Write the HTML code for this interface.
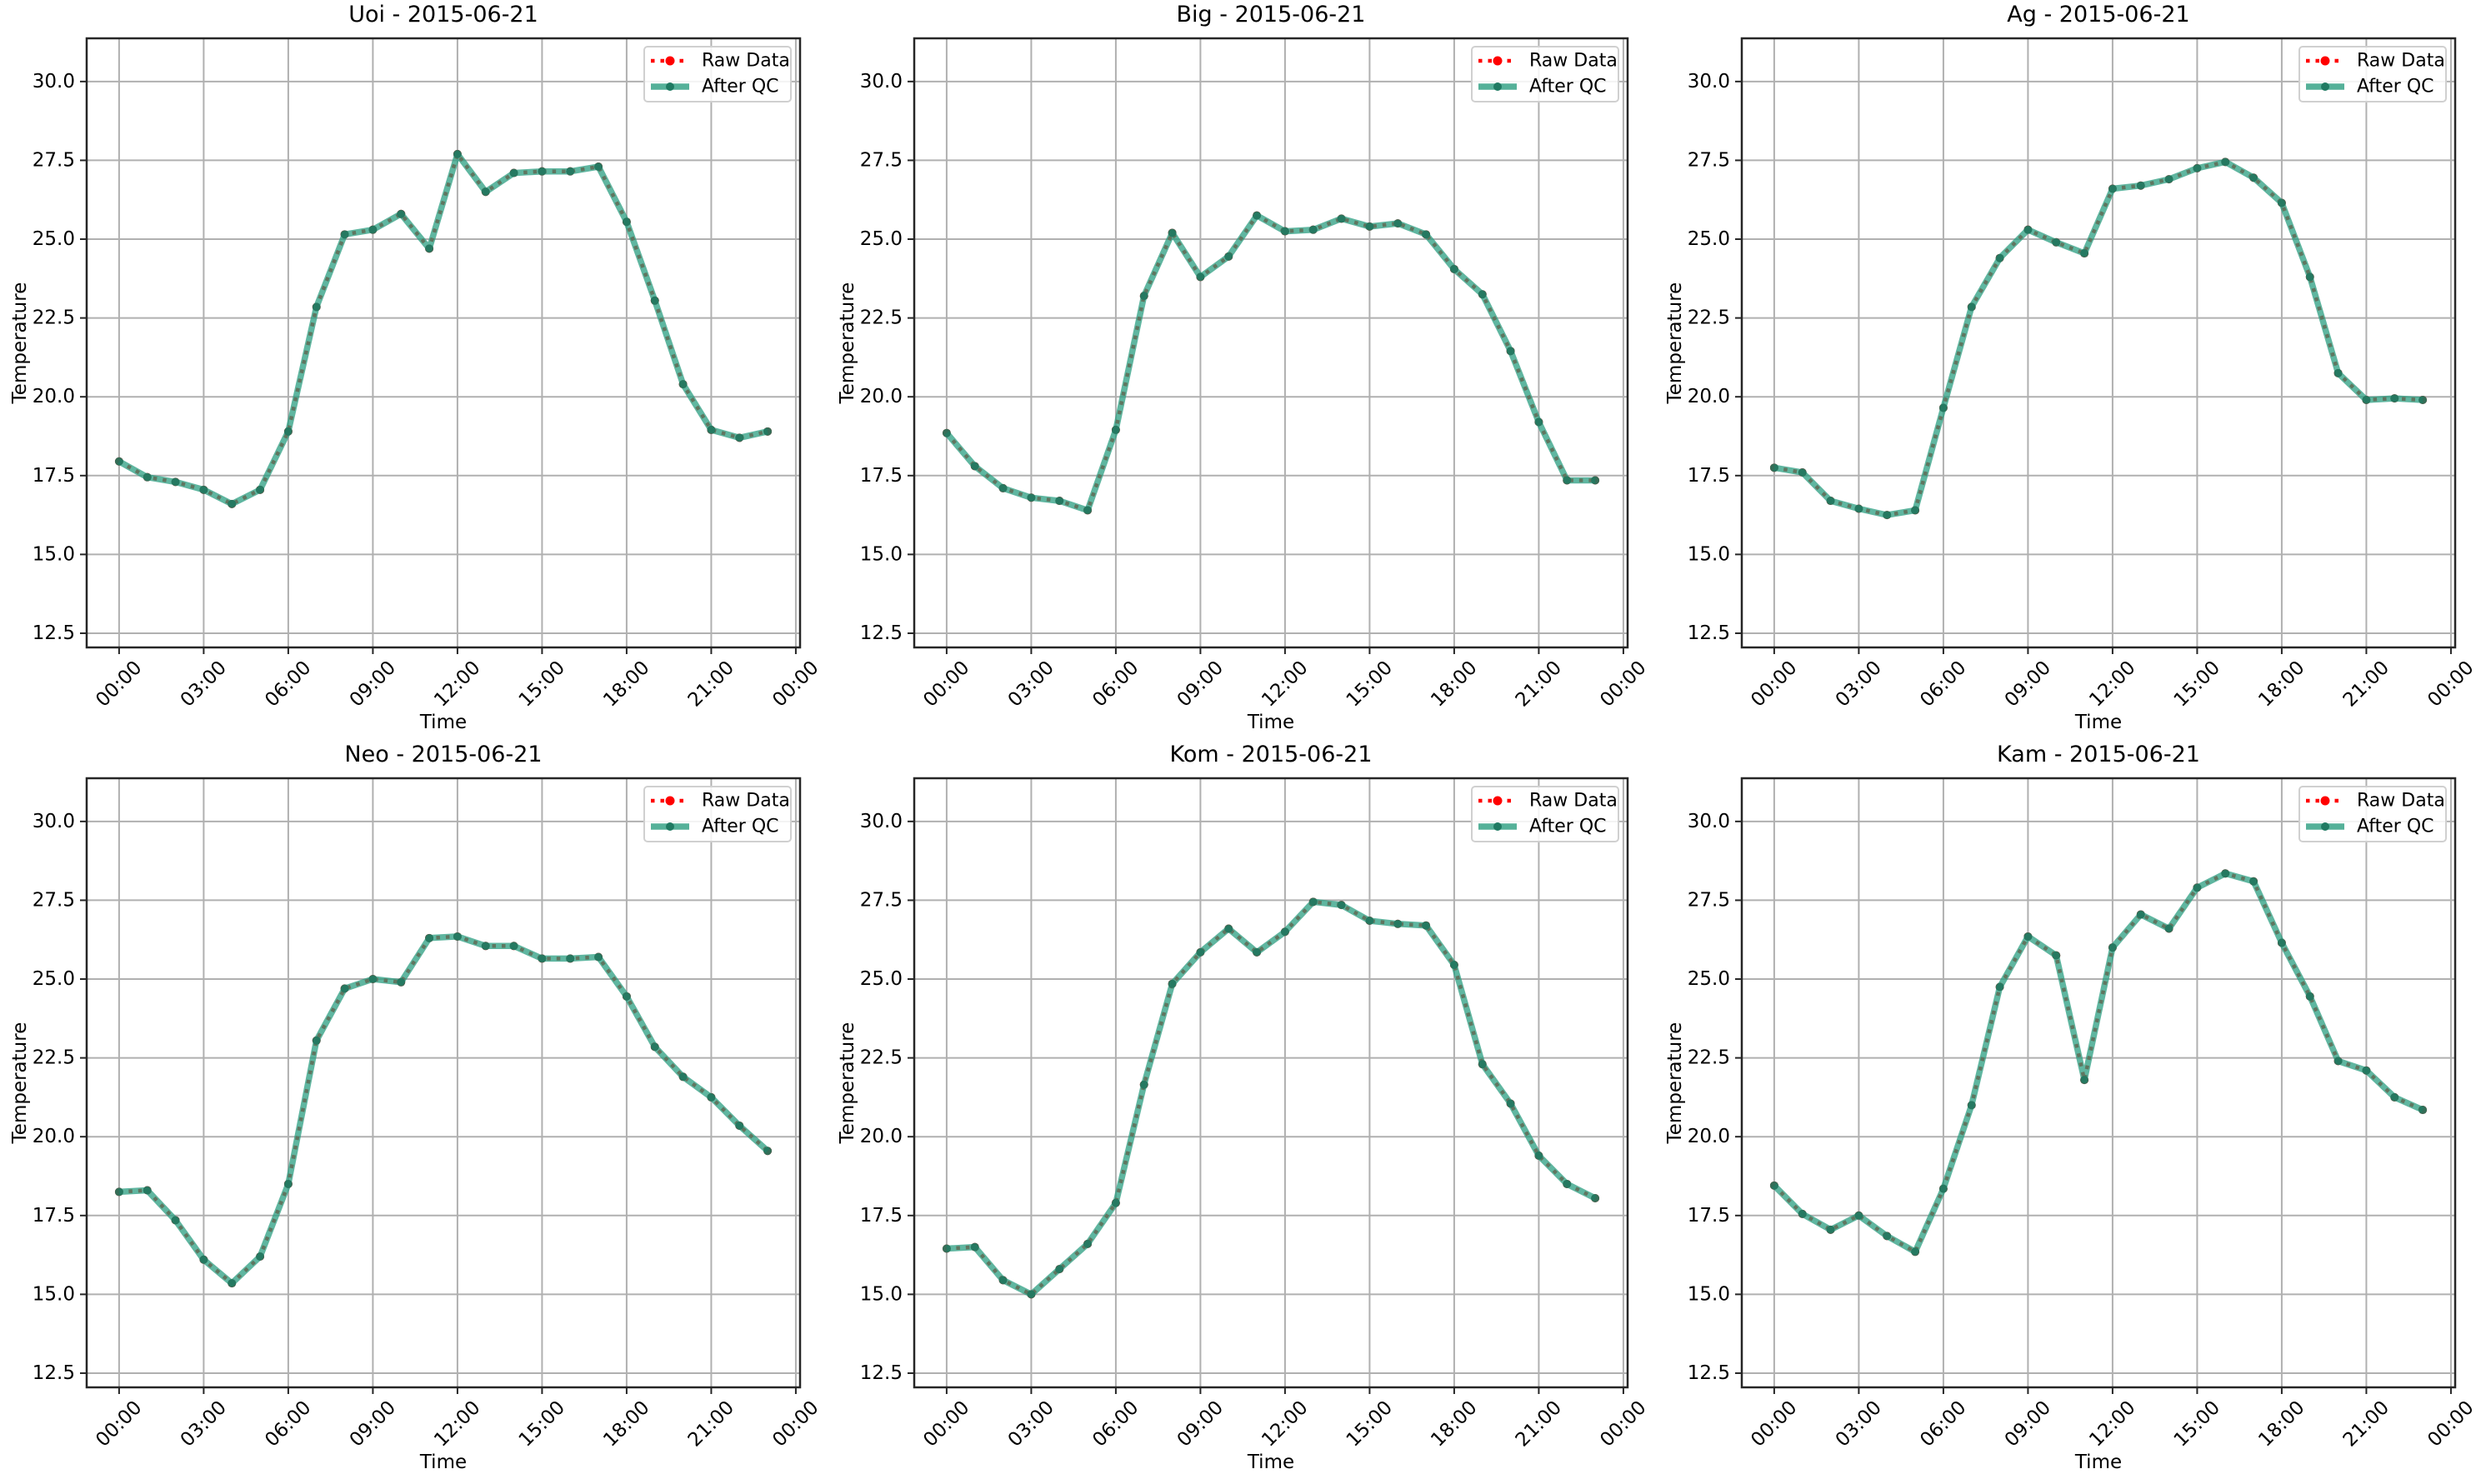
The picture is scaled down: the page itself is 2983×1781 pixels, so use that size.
<!DOCTYPE html>
<html><head><meta charset="utf-8"><style>
html,body{margin:0;padding:0;background:#fff}
svg{display:block;font-family:"DejaVu Sans","Liberation Sans",sans-serif}
</style></head><body>
<svg id="fig" width="2983" height="1781" viewBox="0 0 2983 1781" xmlns="http://www.w3.org/2000/svg"></svg>
<script>
const stations = ["Uoi","Big","Ag","Neo","Kom","Kam"];
const dateLabel = "2015-06-21";
const hours = [0,1,2,3,4,5,6,7,8,9,10,11,12,13,14,15,16,17,18,19,20,21,22,23];
const uoiValues = [17.95,17.45,17.3,17.05,16.6,17.05,18.9,22.85,25.15,25.3,25.8,24.7,27.7,26.5,27.1,27.15,27.15,27.3,25.55,23.05,20.4,18.95,18.7,18.9];
const bigValues = [18.85,17.8,17.1,16.8,16.7,16.4,18.95,23.2,25.2,23.8,24.45,25.75,25.25,25.3,25.65,25.4,25.5,25.15,24.05,23.25,21.45,19.2,17.35,17.35];
const agValues = [17.75,17.6,16.7,16.45,16.25,16.4,19.65,22.85,24.4,25.3,24.9,24.55,26.6,26.7,26.9,27.25,27.45,26.95,26.15,23.8,20.75,19.9,19.95,19.9];
const neoValues = [18.25,18.3,17.35,16.1,15.35,16.2,18.5,23.05,24.7,25.0,24.9,26.3,26.35,26.05,26.05,25.65,25.65,25.7,24.45,22.85,21.9,21.25,20.35,19.55];
const komValues = [16.45,16.5,15.45,15.0,15.8,16.6,17.9,21.65,24.85,25.85,26.6,25.85,26.5,27.45,27.35,26.85,26.75,26.7,25.45,22.3,21.05,19.4,18.5,18.05];
const kamValues = [18.45,17.55,17.05,17.5,16.85,16.35,18.35,21.0,24.75,26.35,25.75,21.8,26.0,27.05,26.6,27.9,28.35,28.1,26.15,24.45,22.4,22.1,21.25,20.85];
const rawSeries = [uoiValues,bigValues,agValues,neoValues,komValues,kamValues];
const qcSeries = [uoiValues,bigValues,agValues,neoValues,komValues,kamValues];
const yTicks = [12.5,15.0,17.5,20.0,22.5,25.0,27.5,30.0];
const xTickHours = [0,3,6,9,12,15,18,21,24];
const xTickLabels = ["00:00","03:00","06:00","09:00","12:00","15:00","18:00","21:00","00:00"];

const NS="http://www.w3.org/2000/svg";
const svg=document.getElementById('fig');
function mk(tag,attrs,parent){const e=document.createElementNS(NS,tag);for(const k in attrs)e.setAttribute(k,attrs[k]);(parent||svg).appendChild(e);return e;}
const W=856,H=731,L0=104,T0=46,DX=993,DY=888;
const xMin=-1.15,xMax=24.15,yMin=12.05,yMax=31.37;

for(let p=0;p<6;p++){
  const L=L0+(p%3)*DX, T=T0+Math.floor(p/3)*DY;
  const xs=h=>L+(h-xMin)/(xMax-xMin)*W;
  const ys=v=>T+H-(v-yMin)/(yMax-yMin)*H;
  const g=mk('g',{});
  
  
  // grid
  xTickHours.forEach((h,i)=>{
    const x=xs(h);
    const gl=mk('line',{x1:x,x2:x,y1:T,y2:T+H,stroke:'#b0b0b0','stroke-width':2},g);
    
    
    mk('line',{x1:x,x2:x,y1:T+H,y2:T+H+8,stroke:'#262626','stroke-width':2},g);
    const cx=x, cy=T+H+44;
    const t=mk('text',{x:cx,y:cy,'font-size':23,'text-anchor':'middle','dominant-baseline':'central',transform:`rotate(-45 ${cx} ${cy})`,fill:'#000'},g);
    t.textContent=xTickLabels[i];
    
    
  });
  yTicks.forEach(v=>{
    const y=ys(v);
    const gl=mk('line',{x1:L,x2:L+W,y1:y,y2:y,stroke:'#b0b0b0','stroke-width':2},g);
    
    
    mk('line',{x1:L-8,x2:L,y1:y,y2:y,stroke:'#262626','stroke-width':2},g);
    const t=mk('text',{x:L-14,y:y,'font-size':23,'text-anchor':'end','dominant-baseline':'central',fill:'#000'},g);
    t.textContent=v.toFixed(1);
    
    
  });
  // raw series
  const rp=rawSeries[p].map((v,i)=>xs(hours[i]).toFixed(1)+','+ys(v).toFixed(1)).join(' ');
  const raw=mk('polyline',{points:rp,fill:'none',stroke:'#ff0000','stroke-width':4.5,'stroke-dasharray':'4.5 7'},g);
  
  
  rawSeries[p].forEach((v,i)=>{
    const c=mk('circle',{cx:xs(hours[i]),cy:ys(v),r:5,fill:'#ff0000'},g);
    
    
  });
  const qp=qcSeries[p].map((v,i)=>xs(hours[i]).toFixed(1)+','+ys(v).toFixed(1)).join(' ');
  const qc=mk('polyline',{points:qp,fill:'none',stroke:'#2a9d80','stroke-opacity':0.75,'stroke-width':7.5,'stroke-linejoin':'round'},g);
  
  
  qcSeries[p].forEach((v,i)=>{
    const c=mk('circle',{cx:xs(hours[i]),cy:ys(v),r:5,fill:'#1f7a62','fill-opacity':0.9},g);
    
    
  });
  // spines
  const sp=mk('rect',{x:L,y:T,width:W,height:H,fill:'none',stroke:'#262626','stroke-width':2.5},g);
  
  
  // title & labels
  const tt=mk('text',{x:L+W/2,y:T-20,'font-size':27,'text-anchor':'middle',fill:'#000'},g);
  tt.textContent=stations[p]+' - '+dateLabel;
  
  
  const xl=mk('text',{x:L+W/2,y:T+H+97,'font-size':23,'text-anchor':'middle',fill:'#000'},g);
  xl.textContent='Time';
  
  
  const ylx=L-80, yly=T+H/2;
  const yl=mk('text',{x:ylx,y:yly,'font-size':23,'text-anchor':'middle','dominant-baseline':'central',transform:`rotate(-90 ${ylx} ${yly})`,fill:'#000'},g);
  yl.textContent='Temperature';
  
  
  // legend
  const lg=mk('g',{},g);
  
  
  const lx=L+669;
  mk('rect',{x:lx,y:T+10,width:176,height:66,rx:4,fill:'#fff','fill-opacity':0.85,stroke:'#d0d0d0','stroke-width':2},lg);
  mk('line',{x1:lx+8,x2:lx+54,y1:T+27,y2:T+27,stroke:'#ff0000','stroke-width':4.5,'stroke-dasharray':'4.5 7'},lg);
  mk('circle',{cx:lx+31,cy:T+27,r:5.5,fill:'#ff0000'},lg);
  const t1=mk('text',{x:lx+69,y:T+27,'font-size':22,'dominant-baseline':'central',fill:'#000'},lg);
  t1.textContent='Raw Data';
  
  
  mk('line',{x1:lx+8,x2:lx+54,y1:T+58,y2:T+58,stroke:'#2a9d80','stroke-opacity':0.8,'stroke-width':7.5},lg);
  mk('circle',{cx:lx+31,cy:T+58,r:5,fill:'#1f7a62'},lg);
  const t2=mk('text',{x:lx+69,y:T+58,'font-size':22,'dominant-baseline':'central',fill:'#000'},lg);
  t2.textContent='After QC';
  
  
}
</script>
</body></html>
